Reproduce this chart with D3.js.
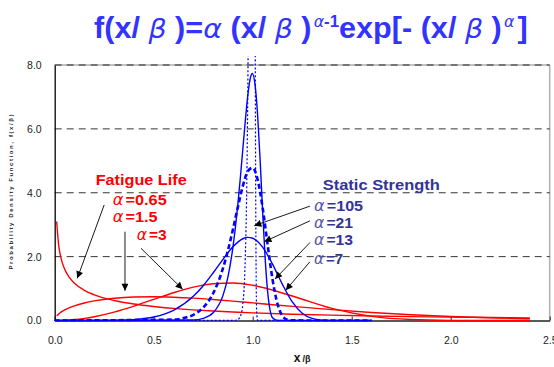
<!DOCTYPE html>
<html>
<head>
<meta charset="utf-8">
<script src="https://cdn.jsdelivr.net/npm/d3@7"></script>
<style>
  body { margin: 0; background: #fff; }
  svg { display: block; font-family: "Liberation Sans", Arial, sans-serif; }
</style>
</head>
<body>
<svg id="chart" width="554" height="367"></svg>
<script>
// ticks
const xTicks = [0, 0.5, 1.0, 1.5, 2.0, 2.5];
const yTicks = [0, 2, 4, 6, 8];

// fatigue life (red) - shared x positions
const fatigueX  = [0.01, 0.02, 0.03, 0.05, 0.075, 0.1, 0.15, 0.2, 0.3, 0.4, 0.5, 0.6, 0.7, 0.8, 0.9, 1.0, 1.2, 1.4, 1.6, 1.8, 2.0, 2.2, 2.4];
const fat065    = [3.10, 2.36, 2.00, 1.61, 1.34, 1.163, 0.944, 0.804, 0.627, 0.516, 0.438, 0.379, 0.333, 0.296, 0.265, 0.239, 0.198, 0.167, 0.142, 0.122, 0.106, 0.093, 0.082];
const fat15     = [0.150, 0.200, 0.255, 0.332, 0.400, 0.460, 0.548, 0.613, 0.697, 0.737, 0.745, 0.730, 0.699, 0.656, 0.606, 0.552, 0.441, 0.339, 0.251, 0.180, 0.125, 0.085, 0.056];
const fat3      = [0.000, 0.001, 0.003, 0.008, 0.017, 0.030, 0.067, 0.119, 0.263, 0.450, 0.662, 0.870, 1.043, 1.151, 1.173, 1.104, 0.767, 0.378, 0.128, 0.029, 0.004, 0.000, 0.000];

// static strength (blue)
const st7X  = [0, 0.3, 0.4, 0.5, 0.6, 0.7, 0.75, 0.8, 0.85, 0.9, 0.95, 0.975, 1.0, 1.025, 1.05, 1.1, 1.15, 1.2, 1.25, 1.3, 1.35, 1.4, 1.6];
const st7Y  = [0, 0.005, 0.029, 0.108, 0.318, 0.758, 1.090, 1.488, 1.916, 2.306, 2.560, 2.602, 2.575, 2.473, 2.297, 1.767, 1.132, 0.581, 0.227, 0.064, 0.012, 0.001, 0];
const st13X = [0, 0.6, 0.65, 0.7, 0.75, 0.8, 0.85, 0.875, 0.9, 0.925, 0.95, 0.975, 1.0, 1.025, 1.05, 1.075, 1.1, 1.125, 1.15, 1.175, 1.2, 1.6];
const st13Y = [0, 0.028, 0.074, 0.178, 0.402, 0.846, 1.638, 2.195, 2.848, 3.549, 4.205, 4.672, 4.782, 4.406, 3.542, 2.392, 1.293, 0.524, 0.148, 0.026, 0.003, 0];
const st21X = [0, 0.7, 0.75, 0.8, 0.85, 0.875, 0.9, 0.9125, 0.925, 0.9375, 0.95, 0.9625, 0.975, 0.9875, 0.998, 1.0125, 1.025, 1.0375, 1.05, 1.0625, 1.075, 1.0875, 1.1, 1.125, 1.6];
const st21Y = [0, 0.017, 0.067, 0.240, 0.787, 1.368, 2.289, 2.907, 3.636, 4.463, 5.356, 6.246, 7.033, 7.576, 7.735, 7.352, 6.416, 5.025, 3.437, 1.984, 0.927, 0.333, 0.086, 0.003, 0];
const st105X = [0, 0.9, 0.92, 0.93, 0.94, 0.95, 0.96, 0.97, 0.975, 0.98, 0.985, 0.99, 1.0, 1.005, 1.01, 1.0125, 1.0135, 1.015, 1.0165, 1.018, 1.02, 1.025, 1.6];
const st105Y = [0, 0.002, 0.018, 0.055, 0.168, 0.506, 1.484, 4.24, 7.04, 11.4, 17.8, 26.1, 38.6, 32.6, 17.2, 9.59, 7.10, 4.17, 2.18, 1.0, 0.279, 0.002, 0];

// annotations: label text, label anchor (data coords), arrow start/end (data coords)
const fatigueLabels = ["=0.65", "=1.5", "=3"];
const fatigueLabelPos = [[0.293, 3.61], [0.293, 3.08], [0.414, 2.52]];
const fatigueLabelW = [54, 45, 30];
const fatigueArrows = [[[0.25, 3.62], [0.114, 1.32]], [[0.355, 2.78], [0.355, 0.93]], [[0.436, 2.26], [0.646, 0.98]]];
const staticLabels = ["=105", "=21", "=13", "=7"];
const staticLabelPos = [[1.31, 3.43], [1.31, 2.91], [1.31, 2.36], [1.31, 1.78]];
const staticLabelW = [49, 39, 39, 29];
const staticArrows = [[[1.289, 3.58], [1.008, 2.97]], [[1.289, 3.12], [1.059, 2.47]], [[1.289, 2.44], [1.113, 1.30]], [[1.289, 1.84], [1.167, 0.95]]];

const svg = d3.select("#chart");
const margin = { top: 65, left: 54.7 };
const width = 495, height = 255.5;

const x = d3.scaleLinear().domain([0, 2.5]).range([0, width]);
const y = d3.scaleLinear().domain([0, 8]).range([height, 0]);

const g = svg.append("g").attr("transform", `translate(${margin.left},${margin.top})`);

// title, stretched afterwards to the reference width
const blue = "#3333ff";
const titleG = svg.append("g");
const title = titleG.append("text")
  .attr("x", 0).attr("y", 0)
  .attr("fill", blue)
  .style("font-size", "29px")
  .style("font-weight", "bold");
const greek = (t, txt, sz) => t.append("tspan")
  .style("font-family", "'DejaVu Sans', sans-serif")
  .style("font-style", "italic")
  .style("font-weight", "normal")
  .style("font-size", sz || "27px")
  .text(txt);
title.append("tspan").text("f(x/ ");
greek(title, "β");
title.append("tspan").text(" )=");
greek(title, "α");
title.append("tspan").text(" (x/ ");
greek(title, "β");
title.append("tspan").text(" )");
greek(title, "α", "15px").attr("dy", -11).attr("dx", 2);
title.append("tspan").style("font-size", "16px").text("-1");
title.append("tspan").attr("dy", 11).text("exp[- (x/ ");
greek(title, "β");
title.append("tspan").text(" )");
greek(title, "α", "15px").attr("dy", -11).attr("dx", 2);
title.append("tspan").attr("dy", 11).attr("dx", 3).text("]");
const tb = title.node().getBBox();
titleG.attr("transform", `translate(94,38) scale(${434 / tb.width},1)`);

// frame
g.append("line").attr("x1", 0).attr("x2", width).attr("y1", 0).attr("y2", 0).attr("stroke", "#b0b0b0").attr("stroke-width", 1.5);
g.append("line").attr("x1", width).attr("x2", width).attr("y1", 0).attr("y2", height).attr("stroke", "#b0b0b0").attr("stroke-width", 1.5);

// gridlines
g.append("g").selectAll("line").data(yTicks.filter(d => d > 0)).join("line")
  .attr("x1", 0).attr("x2", width)
  .attr("y1", d => y(d)).attr("y2", d => y(d))
  .attr("stroke", "#000").attr("stroke-width", 0.8)
  .attr("stroke-dasharray", "7,5");

// axes
const xAxis = g.append("g").attr("transform", `translate(0,${height})`)
  .call(d3.axisBottom(x).tickValues(xTicks).tickFormat(d3.format(".1f")).tickSizeInner(-4).tickSizeOuter(0));
xAxis.select(".domain").attr("stroke", "#222").attr("stroke-width", 1.5);
xAxis.selectAll(".tick line").attr("stroke", "#222");
xAxis.selectAll("text").attr("y", 16).style("font-size", "10.5px").attr("fill", "#222");

const yAxis = g.append("g")
  .call(d3.axisLeft(y).tickValues(yTicks).tickFormat(d3.format(".1f")).tickSize(0).tickPadding(13));
yAxis.select(".domain").attr("stroke", "#000").attr("stroke-width", 1.3);
yAxis.selectAll("text").style("font-size", "10.5px").attr("fill", "#222");

const xTitle = svg.append("text")
  .attr("x", margin.left + width / 2).attr("y", 362)
  .attr("text-anchor", "middle")
  .style("font-weight", "bold").attr("fill", "#111");
xTitle.append("tspan").style("font-size", "12px").text("x");
xTitle.append("tspan").style("font-size", "9px").attr("dx", 2).text("/β");

svg.append("text")
  .attr("transform", "translate(13,192) rotate(-90)")
  .attr("text-anchor", "middle")
  .attr("textLength", 155).attr("lengthAdjust", "spacing")
  .style("font-size", "6px").style("font-weight", "bold").attr("fill", "#222")
  .text("Probability Density Function, f(x/β)");

// curves
svg.append("clipPath").attr("id", "clip").append("rect")
  .attr("x", -2).attr("y", -9).attr("width", width + 2).attr("height", height + 10);
const plot = g.append("g").attr("clip-path", "url(#clip)");
const line = d3.line().x(d => x(d[0])).y(d => y(d[1])).curve(d3.curveMonotoneX);

const series = [
  { xs: fatigueX, ys: fat065, color: "#ff0000", w: 1.4, dash: null },
  { xs: fatigueX, ys: fat15,  color: "#ff0000", w: 1.4, dash: null },
  { xs: fatigueX, ys: fat3,   color: "#ff0000", w: 1.4, dash: null },
  { xs: st7X,   ys: st7Y,   color: "#0000ff", w: 1.4, dash: null },
  { xs: st13X,  ys: st13Y,  color: "#0000ff", w: 2.6, dash: "5,3" },
  { xs: st21X,  ys: st21Y,  color: "#0000ff", w: 1.4, dash: null },
  { xs: st105X, ys: st105Y, color: "#0000ff", w: 1.2, dash: "2,2" }
];
plot.selectAll("path.curve").data(series).join("path")
  .attr("class", "curve")
  .attr("d", s => line(d3.zip(s.xs, s.ys)))
  .attr("fill", "none")
  .attr("stroke", s => s.color)
  .attr("stroke-width", s => s.w)
  .attr("stroke-dasharray", s => s.dash);

// arrows
svg.append("defs").append("marker")
  .attr("id", "arrow").attr("viewBox", "0 0 10 10")
  .attr("refX", 10).attr("refY", 5)
  .attr("markerWidth", 9).attr("markerHeight", 7)
  .attr("markerUnits", "userSpaceOnUse")
  .attr("orient", "auto")
  .append("path").attr("d", "M0,0L10,5L0,10Z").attr("fill", "#000");

g.selectAll("line.arrow").data(fatigueArrows.concat(staticArrows)).join("line")
  .attr("class", "arrow")
  .attr("x1", d => x(d[0][0])).attr("y1", d => y(d[0][1]))
  .attr("x2", d => x(d[1][0])).attr("y2", d => y(d[1][1]))
  .attr("stroke", "#000").attr("stroke-width", 0.9)
  .attr("marker-end", "url(#arrow)");

// labels
g.append("text").attr("x", x(0.207)).attr("y", y(4.24))
  .attr("fill", "#ff0000").style("font-size", "14px").style("font-weight", "bold")
  .attr("textLength", 91).attr("lengthAdjust", "spacingAndGlyphs")
  .text("Fatigue Life");
g.append("text").attr("x", x(1.354)).attr("y", y(4.09))
  .attr("fill", "#333399").style("font-size", "14px").style("font-weight", "bold")
  .attr("textLength", 117).attr("lengthAdjust", "spacingAndGlyphs")
  .text("Static Strength");

function alphaLabel(txt, pos, w, color, alphaColor) {
  const lg = g.append("g");
  const t = lg.append("text").attr("x", 0).attr("y", 0)
    .attr("fill", color).style("font-size", "15px").style("font-weight", "bold");
  t.append("tspan").attr("fill", alphaColor)
    .style("font-family", "'DejaVu Sans', sans-serif")
    .style("font-style", "italic").style("font-weight", "normal")
    .text("α");
  t.append("tspan").attr("dx", 2).text(txt);
  const bw = t.node().getBBox().width;
  lg.attr("transform", `translate(${x(pos[0])},${y(pos[1])}) scale(${w / bw},1)`);
}
fatigueLabels.forEach((s, i) => alphaLabel(s, fatigueLabelPos[i], fatigueLabelW[i], "#ff0000", "#ff0000"));
staticLabels.forEach((s, i) => alphaLabel(s, staticLabelPos[i], staticLabelW[i], "#333399", "#5555aa"));
</script>
</body>
</html>
